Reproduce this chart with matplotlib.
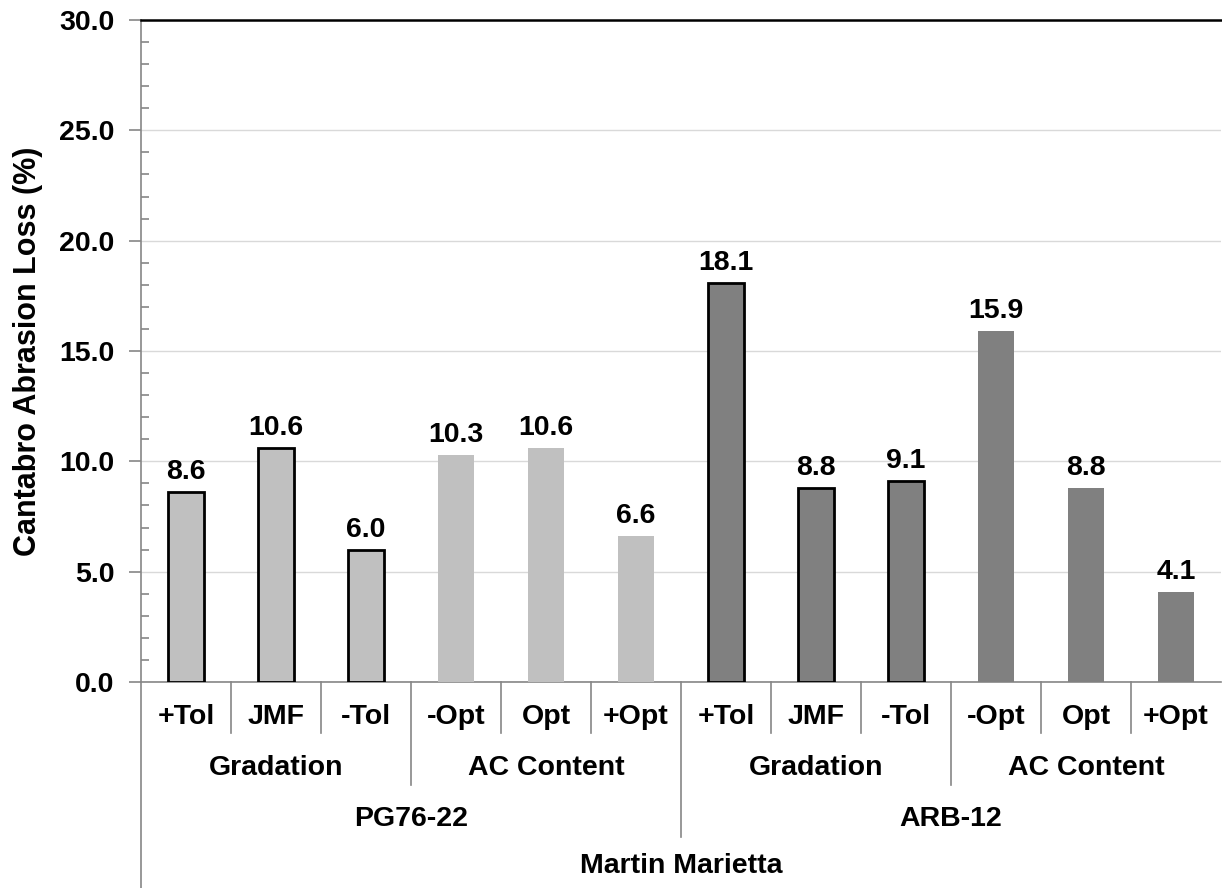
import matplotlib.pyplot as plt
import matplotlib.transforms as mtransforms
from matplotlib.ticker import MultipleLocator, FormatStrFormatter

plt.rcParams['font.family'] = ['Liberation Sans', 'DejaVu Sans']
plt.rcParams['font.weight'] = 'bold'

# three-level category axis
labels = ['+Tol', 'JMF', '-Tol', '-Opt', 'Opt', '+Opt',
          '+Tol', 'JMF', '-Tol', '-Opt', 'Opt', '+Opt']
groups = ['Gradation', 'AC Content', 'Gradation', 'AC Content']
binders = ['PG76-22', 'ARB-12']
source = 'Martin Marietta'

loss = [8.6, 10.6, 6.0, 10.3, 10.6, 6.6,
        18.1, 8.8, 9.1, 15.9, 8.8, 4.1]

fills = ['#C0C0C0'] * 6 + ['#808080'] * 6
outlined = [True, True, True, False, False, False] * 2

FS = 20.5

fig = plt.figure(figsize=(12.22, 8.88), dpi=100)
ax = fig.add_axes([0.1154, 0.232, 0.8838, 0.7455])

x = list(range(len(loss)))
for i in x:
    ax.bar(i, loss[i], width=0.4, color=fills[i],
           edgecolor='black' if outlined[i] else 'none',
           linewidth=2 if outlined[i] else 0, zorder=3)
    ax.annotate(f'{loss[i]:.1f}', (i, loss[i]), xytext=(0, 5),
                textcoords='offset points', ha='center', va='bottom',
                fontsize=FS, fontweight='bold')

ax.set_xlim(-0.5, 11.5)
ax.set_ylim(0, 30)
ax.yaxis.set_major_locator(MultipleLocator(5))
ax.yaxis.set_minor_locator(MultipleLocator(1))
ax.yaxis.set_major_formatter(FormatStrFormatter('%.1f'))
ax.grid(axis='y', which='major', color='#D9D9D9', linewidth=1, zorder=0)
ax.tick_params(axis='y', which='major', direction='out', length=9,
               color='#868686', width=1.2, labelsize=FS, pad=10)
ax.tick_params(axis='y', which='minor', direction='in', length=6,
               color='#868686', width=1.2)
for t in ax.get_yticklabels():
    t.set_fontweight('bold')
ax.set_xticks([])

ax.spines['right'].set_visible(False)
ax.spines['top'].set_color('black')
ax.spines['top'].set_linewidth(1.8)
ax.spines['bottom'].set_color('#868686')
ax.spines['bottom'].set_linewidth(1.2)
ax.spines['left'].set_visible(False)

ax.set_ylabel('Cantabro Abrasion Loss (%)', fontsize=22, fontweight='bold',
              labelpad=12)

trans = mtransforms.blended_transform_factory(ax.transData, ax.transAxes)
sep = dict(color='#868686', linewidth=1.2, transform=trans, clip_on=False)

# left axis runs down through all category rows
ax.plot([-0.5, -0.5], [1, -0.311], **sep)
for b in range(1, 12):
    if b == 6:
        depth = -0.234
    elif b % 3 == 0:
        depth = -0.156
    else:
        depth = -0.077
    ax.plot([b - 0.5, b - 0.5], [0, depth], **sep)

for i, lab in enumerate(labels):
    ax.text(i, -0.053, lab, transform=trans, ha='center', va='center',
            fontsize=FS, fontweight='bold')
for g, lab in enumerate(groups):
    ax.text(g * 3 + 1, -0.130, lab, transform=trans, ha='center',
            va='center', fontsize=FS, fontweight='bold')
for k, lab in enumerate(binders):
    ax.text(k * 6 + 2.5, -0.207, lab, transform=trans, ha='center',
            va='center', fontsize=FS, fontweight='bold')
ax.text(5.5, -0.278, source, transform=trans, ha='center', va='center',
        fontsize=FS, fontweight='bold')

fig.savefig('out.png', dpi=100)
